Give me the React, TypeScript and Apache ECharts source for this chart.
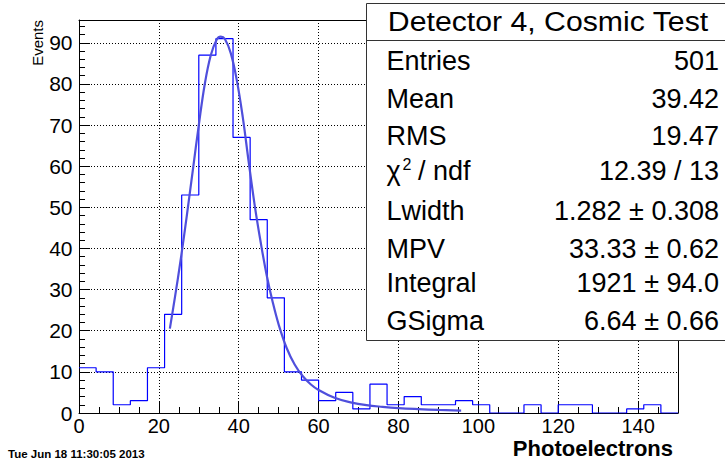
import React, { useEffect, useRef } from "react";
import * as echarts from "echarts";

// ---- data ----
const X_MIN = 0;
const X_MAX = 150;
const Y_MAX = 95.55;
const binCounts = [
  11, 10, 2, 3, 11, 24, 53, 87, 91, 67, 47, 28, 10, 8, 3, 5, 1, 7, 2, 4, 2, 2,
  3, 2, 0, 0, 2, 0, 2, 2, 0, 0, 1, 2, 0,
];
const fitX = [
  22.75, 24, 25.5, 27, 28.5, 30, 31.5, 33, 34.5, 35.5, 36.5, 38, 39.5, 41, 42.5,
  44, 45.5, 47, 48.5, 50, 52, 54, 56, 58, 60, 64, 68, 72, 76, 80, 85, 90, 95.7,
];
const fitY = [
  20.5, 28, 37.5, 48, 59, 70, 80, 87, 90.8, 91.5, 91, 87.5, 81, 72, 61, 50.5,
  41.5, 33.5, 27, 21.5, 15.8, 11.8, 9, 7, 5.6, 3.7, 2.6, 1.9, 1.5, 1.2, 0.95,
  0.75, 0.6,
];
const statTitle = "Detector 4, Cosmic Test";
const statLabels = ["Entries", "Mean", "RMS", "CHI", "Lwidth", "MPV", "Integral", "GSigma"];
const statValues = [
  "501",
  "39.42",
  "19.47",
  "12.39 / 13",
  "1.282 \u00b1 0.308",
  "33.33 \u00b1 0.62",
  "1921 \u00b1 94.0",
  "6.64 \u00b1 0.66",
];
const xTitle = "Photoelectrons";
const yTitle = "Events";
const dateText = "Tue Jun 18 11:30:05 2013";

// ---- layout ----
const FONT = "'Liberation Sans', Arial, Helvetica, sans-serif";
const W = 725;
const H = 462;
const rowY = [61, 99, 136, 171, 211, 249, 283, 321];

export default function App() {
  const ref = useRef<HTMLDivElement>(null);

  useEffect(() => {
    if (!ref.current) return;
    const chart = echarts.init(ref.current, null, { renderer: "svg" });

    const bw = (X_MAX - X_MIN) / binCounts.length;
    const histData: number[][] = binCounts.map((c, i) => [X_MIN + i * bw, c]);
    histData.push([X_MAX, binCounts[binCounts.length - 1]]);
    const fitData = fitX.map((x, i) => [x, fitY[i]]);

    const axisLine = { show: true, onZero: false, lineStyle: { color: "#000", width: 1 } };
    const grid = { left: 79, top: 20, right: 47, bottom: 49 };

    const statGraphics: any[] = [];
    statGraphics.push({
      type: "rect",
      z: 100,
      shape: { x: 366.5, y: 3.5, width: 370, height: 337 },
      style: { fill: "#fff", stroke: "#333", lineWidth: 1 },
    });
    statGraphics.push({
      type: "line",
      z: 101,
      shape: { x1: 366.5, y1: 40.5, x2: 730, y2: 40.5 },
      style: { stroke: "#333", lineWidth: 1 },
    });
    statGraphics.push({
      type: "text",
      z: 102,
      x: 548,
      y: 22,
      scaleX: 1.12,
      style: {
        text: statTitle,
        fontFamily: FONT,
        fontSize: 27,
        fill: "#000",
        align: "center",
        verticalAlign: "middle",
      },
    });
    statLabels.forEach((lab, i) => {
      if (lab === "CHI") {
        statGraphics.push({
          type: "text",
          z: 102,
          x: 386.5,
          y: rowY[i],
          style: { text: "\u03c7", fontFamily: FONT, fontSize: 27, fill: "#000", align: "left", verticalAlign: "middle" },
        });
        statGraphics.push({
          type: "text",
          z: 102,
          x: 402.5,
          y: rowY[i] - 7,
          style: { text: "2", fontFamily: FONT, fontSize: 16, fill: "#000", align: "left", verticalAlign: "middle" },
        });
        statGraphics.push({
          type: "text",
          z: 102,
          x: 418,
          y: rowY[i],
          style: { text: "/ ndf", fontFamily: FONT, fontSize: 27, fill: "#000", align: "left", verticalAlign: "middle" },
        });
      } else {
        statGraphics.push({
          type: "text",
          z: 102,
          x: 386.5,
          y: rowY[i],
          style: { text: lab, fontFamily: FONT, fontSize: 27, fill: "#000", align: "left", verticalAlign: "middle" },
        });
      }
      statGraphics.push({
        type: "text",
        z: 102,
        x: 719,
        y: rowY[i],
        style: {
          text: statValues[i],
          fontFamily: FONT,
          fontSize: 27,
          fill: "#000",
          align: "right",
          verticalAlign: "middle",
        },
      });
    });

    const option: any = {
      animation: false,
      backgroundColor: "#fff",
      grid,
      xAxis: [
        {
          type: "value",
          min: X_MIN,
          max: X_MAX,
          interval: 20,
          position: "bottom",
          axisLine,
          axisTick: { show: true, inside: true, length: 11, lineStyle: { color: "#000", width: 1 } },
          axisLabel: {
            margin: 3,
            fontFamily: FONT,
            fontSize: 20,
            color: "#000",
            formatter: (v: number) => (v % 20 === 0 ? String(v) : ""),
          },
          splitLine: { show: true, lineStyle: { color: "#000", type: [1, 2], width: 1 } },
        },
        {
          type: "value",
          min: X_MIN,
          max: X_MAX,
          interval: 5,
          position: "bottom",
          axisLine: { show: false },
          axisTick: { show: true, inside: true, length: 6, lineStyle: { color: "#000", width: 1 } },
          axisLabel: { show: false },
          splitLine: { show: false },
        },
        {
          type: "value",
          min: X_MIN,
          max: X_MAX,
          position: "top",
          axisLine,
          axisTick: { show: false },
          axisLabel: { show: false },
          splitLine: { show: false },
        },
      ],
      yAxis: [
        {
          type: "value",
          min: 0,
          max: Y_MAX,
          interval: 10,
          position: "left",
          axisLine,
          axisTick: { show: true, inside: true, length: 11, lineStyle: { color: "#000", width: 1 } },
          axisLabel: {
            margin: 6.5,
            fontFamily: FONT,
            fontSize: 21,
            color: "#000",
            formatter: (v: number) => (v % 10 === 0 ? String(v) : ""),
          },
          splitLine: { show: true, lineStyle: { color: "#000", type: [1, 2], width: 1 } },
        },
        {
          type: "value",
          min: 0,
          max: Y_MAX,
          interval: 2,
          position: "left",
          axisLine: { show: false },
          axisTick: { show: true, inside: true, length: 6, lineStyle: { color: "#000", width: 1 } },
          axisLabel: { show: false },
          splitLine: { show: false },
        },
        {
          type: "value",
          min: 0,
          max: Y_MAX,
          position: "right",
          axisLine,
          axisTick: { show: false },
          axisLabel: { show: false },
          splitLine: { show: false },
        },
      ],
      series: [
        {
          type: "line",
          name: "hist",
          xAxisIndex: 0,
          yAxisIndex: 0,
          step: "end",
          data: histData,
          showSymbol: false,
          symbol: "none",
          lineStyle: { color: "#0000ff", width: 1.2 },
          z: 3,
        },
        {
          type: "line",
          name: "fit",
          xAxisIndex: 0,
          yAxisIndex: 0,
          data: fitData,
          smooth: 0.4,
          showSymbol: false,
          symbol: "none",
          lineStyle: { color: "#4f4fdc", width: 2.2 },
          z: 4,
        },
      ],
      graphic: [
        ...statGraphics,
        {
          type: "text",
          z: 50,
          x: 37,
          y: 20,
          rotation: Math.PI / 2,
          style: {
            text: yTitle,
            fontFamily: FONT,
            fontSize: 15,
            fill: "#000",
            align: "right",
            verticalAlign: "middle",
          },
        },
        {
          type: "text",
          z: 50,
          x: 673,
          y: 448.5,
          style: {
            text: xTitle,
            fontFamily: FONT,
            fontSize: 22,
            fontWeight: "bold",
            fill: "#000",
            align: "right",
            verticalAlign: "middle",
          },
        },
        {
          type: "text",
          z: 50,
          x: 8,
          y: 454,
          style: {
            text: dateText,
            fontFamily: FONT,
            fontSize: 11.5,
            fontWeight: "bold",
            fill: "#000",
            align: "left",
            verticalAlign: "middle",
          },
        },
      ],
    };

    chart.setOption(option);
    return () => chart.dispose();
  }, []);

  return (
    <div
      ref={ref}
      style={{ position: "fixed", left: 0, top: 0, width: W, height: H, background: "#fff" }}
    />
  );
}
